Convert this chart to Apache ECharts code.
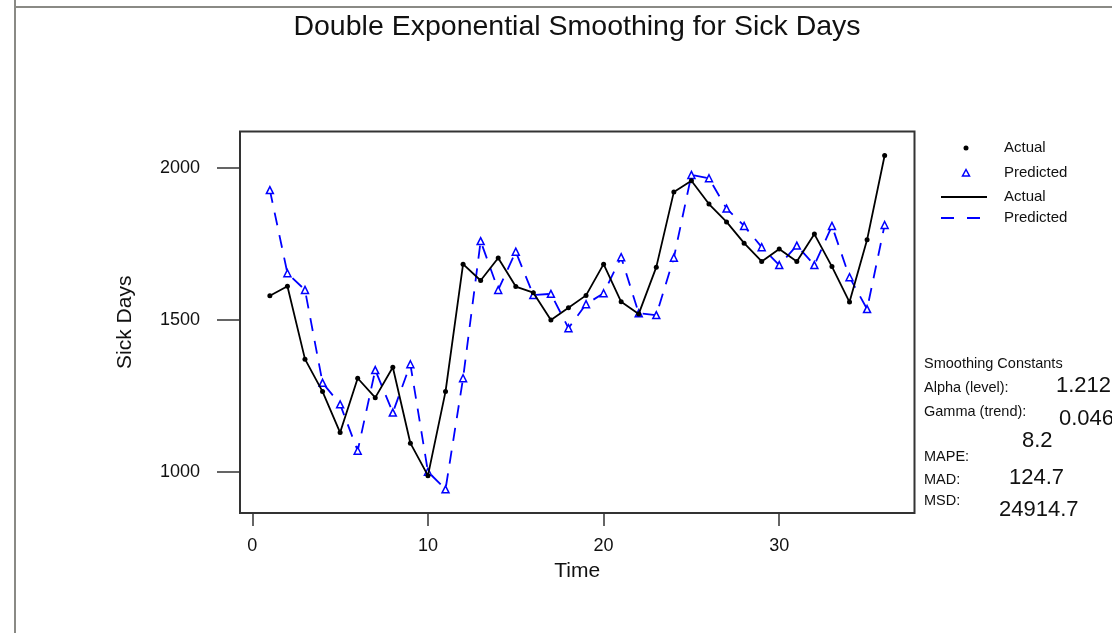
<!DOCTYPE html>
<html>
<head>
<meta charset="utf-8">
<script src="https://cdn.jsdelivr.net/npm/echarts@6/dist/echarts.min.js"></script>
<style>
html,body{margin:0;padding:0;background:#fff;}
#chart{width:1112px;height:633px;}
</style>
</head>
<body>
<div id="chart"></div>
<script>
const timeIdx = [1,2,3,4,5,6,7,8,9,10,11,12,13,14,15,16,17,18,19,20,21,22,23,24,25,26,27,28,29,30,31,32,33,34,35,36];
const actual = [1580,1611,1371,1264,1129,1308,1244,1344,1094,987,1264,1684,1630,1704,1610,1590,1500,1540,1581,1684,1560,1520,1674,1922,1959,1882,1823,1753,1693,1734,1693,1783,1676,1559,1764,2042];
const predicted = [1928,1654,1599,1293,1222,1069,1335,1195,1354,1000,942,1308,1760,1599,1725,1582,1586,1473,1552,1588,1707,1522,1516,1705,1978,1967,1867,1810,1740,1681,1745,1681,1810,1641,1536,1813];
const xTicks = [0,10,20,30];
const yTicks = [1000,1500,2000];
const titleText = 'Double Exponential Smoothing for Sick Days';
const legendLabels = ['Actual','Predicted','Actual','Predicted'];
const statLabels = ['Smoothing Constants','Alpha (level):','Gamma (trend):','MAPE:','MAD:','MSD:'];
const statValues = ['1.212','0.046','8.2','124.7','24914.7'];

const FONT = '"Liberation Sans", Arial, sans-serif';
const BLUE = '#0000ff';
const chart = echarts.init(document.getElementById('chart'));

function txt(x, y, s, size, align) {
  return {type:'text', x:x, y:y, style:{text:s, fill:'#111', font: size + 'px ' + FONT, textAlign: align || 'left', textVerticalAlign:'middle'}};
}

const graphics = [
  {type:'line', shape:{x1:15,y1:0,x2:15,y2:633}, style:{stroke:'#8a8a85', lineWidth:2}},
  {type:'line', shape:{x1:15,y1:7,x2:1112,y2:7}, style:{stroke:'#8a8a85', lineWidth:2}},
  txt(577, 27, titleText, 28.5, 'center'),
  // legend
  {type:'circle', shape:{cx:966, cy:148, r:2.5}, style:{fill:'#000'}},
  txt(1004, 148, legendLabels[0], 15),
  {type:'polygon', shape:{points:[[966,169.5],[962.5,176],[969.5,176]]}, style:{fill:'#fff', stroke:BLUE, lineWidth:1.5}},
  txt(1004, 173, legendLabels[1], 15),
  {type:'line', shape:{x1:941,y1:197,x2:987,y2:197}, style:{stroke:'#000', lineWidth:1.8}},
  txt(1004, 197, legendLabels[2], 15),
  {type:'line', shape:{x1:941,y1:218,x2:987,y2:218}, style:{stroke:BLUE, lineWidth:1.8, lineDash:[13,13]}},
  txt(1004, 218, legendLabels[3], 15),
  // stats
  txt(924, 364, statLabels[0], 14.5),
  txt(924, 388, statLabels[1], 14.5),
  txt(924, 412, statLabels[2], 14.5),
  txt(924, 457, statLabels[3], 14.5),
  txt(924, 480, statLabels[4], 14.5),
  txt(924, 501, statLabels[5], 14.5),
  txt(1056, 386, statValues[0], 22),
  txt(1059, 419, statValues[1], 22),
  txt(1022, 441, statValues[2], 22),
  txt(1009, 478, statValues[3], 22),
  txt(999, 510, statValues[4], 22)
];

const option = {
  backgroundColor:'#fff',
  animation:false,
  textStyle:{fontFamily:FONT},
  grid:{left:240, top:131.5, right:197.5, bottom:120, show:true, borderColor:'#333', borderWidth:2, backgroundColor:'transparent'},
  xAxis:{
    type:'value', min:-0.7, max:37.7,
    name:'Time', nameLocation:'middle', nameGap:48,
    nameTextStyle:{fontSize:21, color:'#111', fontFamily:FONT},
    axisLine:{show:false, onZero:false},
    splitLine:{show:false},
    axisTick:{show:true, inside:false, length:13, customValues:xTicks, lineStyle:{color:'#333', width:1.5}},
    axisLabel:{customValues:xTicks, margin:24, fontSize:18, color:'#111', fontFamily:FONT}
  },
  yAxis:{
    type:'value', min:864, max:2121,
    name:'Sick Days', nameLocation:'middle', nameGap:104, nameRotate:90,
    nameTextStyle:{fontSize:21, color:'#111', fontFamily:FONT},
    axisLine:{show:false, onZero:false},
    splitLine:{show:false},
    axisTick:{show:true, length:23, customValues:yTicks, lineStyle:{color:'#333', width:1.5}},
    axisLabel:{customValues:yTicks, margin:40, fontSize:18, color:'#111', fontFamily:FONT, formatter:(v)=>String(v)}
  },
  series:[
    {
      name:'Actual', type:'line',
      data: timeIdx.map((t,i)=>[t, actual[i]]),
      lineStyle:{color:'#000', width:1.8},
      symbol:'circle', symbolSize:5, showAllSymbol:true,
      itemStyle:{color:'#000'},
      z:3
    },
    {
      name:'Predicted', type:'line',
      data: timeIdx.map((t,i)=>[t, predicted[i]]),
      lineStyle:{color:BLUE, width:1.8, type:[13,10]},
      symbol:'triangle', symbolSize:[7,7], showAllSymbol:true,
      itemStyle:{color:'#fff', borderColor:BLUE, borderWidth:1.5},
      z:2
    }
  ],
  graphic: graphics
};
chart.setOption(option);
</script>
</body>
</html>
